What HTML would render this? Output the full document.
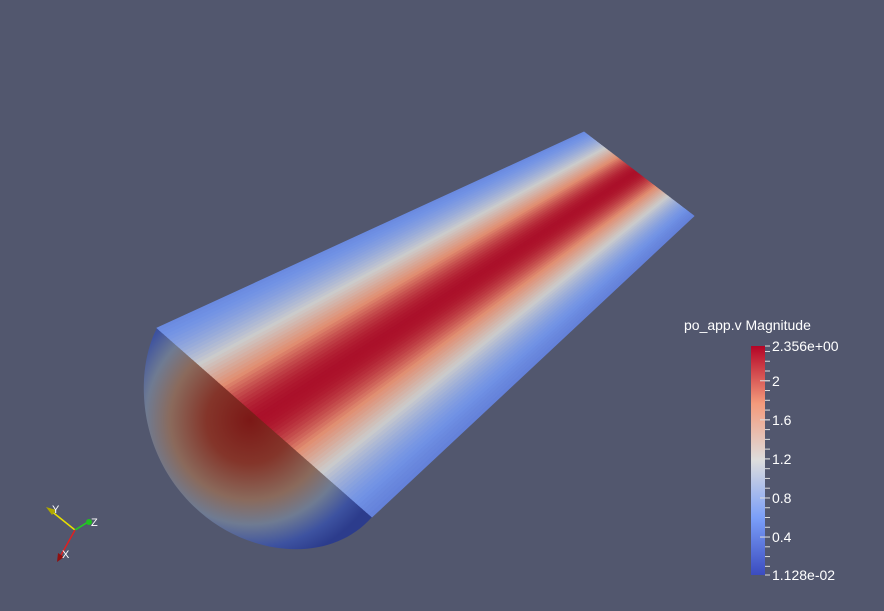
<!DOCTYPE html>
<html><head><meta charset="utf-8"><style>
html,body{margin:0;padding:0;background:#52576e;}
svg{display:block;font-family:"Liberation Sans",sans-serif;}
</style></head><body>
<svg id="s" width="884" height="611" viewBox="0 0 884 611">
<defs>
<radialGradient id="endg" gradientUnits="userSpaceOnUse" cx="250" cy="420" r="145">
<stop offset="0" stop-color="#7c1816"/>
<stop offset="0.3" stop-color="#84352a"/>
<stop offset="0.55" stop-color="#8a6a5c"/>
<stop offset="0.72" stop-color="#6f7b92"/>
<stop offset="0.88" stop-color="#3d52a0"/>
<stop offset="1" stop-color="#2c3c8c"/>
</radialGradient>
<linearGradient id="cbg" x1="0" y1="1" x2="0" y2="0">
<stop offset="0" stop-color="#3b4cc0"/>
<stop offset="0.25" stop-color="#7b9ff9"/>
<stop offset="0.5" stop-color="#dddddd"/>
<stop offset="0.75" stop-color="#f49a7b"/>
<stop offset="1" stop-color="#b40426"/>
</linearGradient>
</defs>
<path d="M157,328 C135,370 135,455 200,512 C250,556 330,565 372,517 Z" fill="url(#endg)"/>
<g id="face"></g>
<g>
<line x1="75" y1="530" x2="50" y2="510" stroke="#e8e000" stroke-width="1.5"/>
<polygon points="46,507 56,510 52,515" fill="#b0a800"/>
<line x1="75" y1="530" x2="88" y2="522" stroke="#20d020" stroke-width="1.5"/>
<circle cx="89" cy="522" r="3" fill="#20c020"/>
<line x1="75" y1="530" x2="60" y2="557" stroke="#e02020" stroke-width="1.5"/>
<polygon points="57,562 58,553 64,557" fill="#901010"/>
<text x="52" y="513" fill="#fff" font-size="11">Y</text>
<text x="91" y="526" fill="#fff" font-size="11">Z</text>
<text x="62" y="558" fill="#fff" font-size="11">X</text>
</g>
<g id="cb">
<text x="684" y="330" fill="#fff" font-size="14">po_app.v Magnitude</text>
<rect x="751" y="346" width="14" height="229" fill="url(#cbg)"/>
</g>
</svg>
<script>
const rangeMin = 0.01128;
const rangeMax = 2.356;
const tickValues = [2, 1.6, 1.2, 0.8, 0.4];
const tickLabels = ["2", "1.6", "1.2", "0.8", "0.4"];
const endLabels = ["2.356e+00", "1.128e-02"];
const NS = "http://www.w3.org/2000/svg";
const barTop = 346, barBot = 575;
function yOf(v){ return barBot - (v - rangeMin) / (rangeMax - rangeMin) * (barBot - barTop); }
const cb = document.getElementById('cb');
function mk(tag, attrs){ const e=document.createElementNS(NS,tag); for(const k in attrs) e.setAttribute(k,attrs[k]); return e; }
for (let v = 0.1; v < rangeMax; v += 0.1) {
  const t = mk('line',{x1:765,x2:770,y1:yOf(v),y2:yOf(v),stroke:'#ddd','stroke-width':1});
  
  
  cb.appendChild(t);
}
tickValues.forEach((v,i)=>{
  const y=yOf(v);
  const t=mk('line',{x1:760,x2:770,y1:y,y2:y,stroke:'#ddd','stroke-width':1});
  
  
  cb.appendChild(t);
  const l=mk('text',{x:772,y:y+5,fill:'#fff','font-size':14});
  l.textContent=tickLabels[i];
  
  
  cb.appendChild(l);
});
[[rangeMax,endLabels[0]],[rangeMin,endLabels[1]]].forEach(([v,s])=>{
  const y=yOf(v);
  const t=mk('line',{x1:765,x2:770,y1:y,y2:y,stroke:'#ddd','stroke-width':1});
  
  
  cb.appendChild(t);
  const l=mk('text',{x:772,y:y+5,fill:'#fff','font-size':14});
  l.textContent=s;
  
  
  cb.appendChild(l);
});
const cmStops=[[0,[59,76,192]],[0.25,[123,159,249]],[0.5,[221,221,221]],[0.75,[244,154,123]],[1,[180,4,38]]];
function cmap(t,sh){t=Math.max(0,Math.min(1,t));for(let i=1;i<cmStops.length;i++){if(t<=cmStops[i][0]){const a=cmStops[i-1],b=cmStops[i];const u=(t-a[0])/(b[0]-a[0]);const c=a[1].map((x,j)=>Math.round((x+(b[1][j]-x)*u)*sh));return 'rgb('+c.join(',')+')';}}return 'rgb(160,20,30)';}
const A=[157,328],B=[584,132],C=[694,216],D=[372,517];
const face=document.getElementById('face');
const N=80;
function lerp(p,q,f){return [p[0]+(q[0]-p[0])*f,p[1]+(q[1]-p[1])*f];}
for(let i=0;i<N;i++){
  const f0=i/N,f1=(i+1)/N,fm=(f0+f1)/2;
  const p1=lerp(A,D,f0),p2=lerp(B,C,f0),p3=lerp(B,C,f1),p4=lerp(A,D,f1);
  const v=0.35+1.95*Math.exp(-Math.pow((fm-0.48)/0.31,2));
  const col=cmap((v-rangeMin)/(rangeMax-rangeMin),0.92);
  const poly=mk('polygon',{points:[p1,p2,p3,p4].map(p=>p.join(',')).join(' '),fill:col,stroke:col,'stroke-width':0.8});
  
  
  face.appendChild(poly);
}
</script>
</body></html>
